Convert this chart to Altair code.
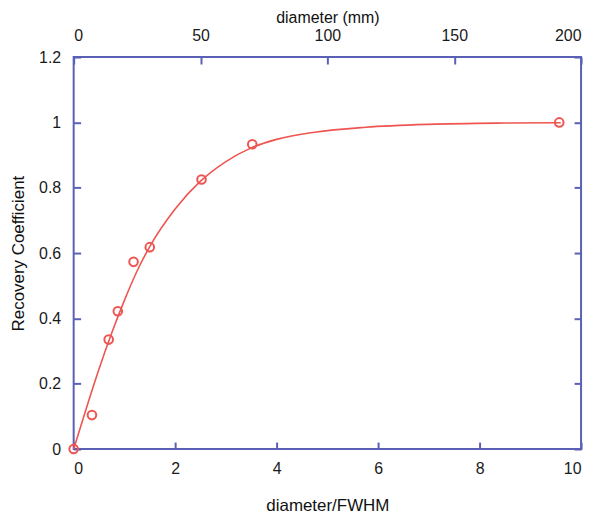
import altair as alt
import pandas as pd

# measured points (diameter / FWHM vs recovery coefficient)
fwhm = [0, 0.36, 0.69, 0.87, 1.18, 1.50, 2.52, 3.52, 9.57]
rc = [0, 0.104, 0.335, 0.422, 0.573, 0.618, 0.825, 0.933, 1.0]

# fitted curve
curve_x = [0, 0.25, 0.5, 0.75, 1.0, 1.25, 1.5, 2.0, 2.5, 3.0, 3.5, 4.0, 4.75, 5.75, 7.0, 8.5, 9.6]
curve_y = [0, 0.125, 0.245, 0.355, 0.455, 0.545, 0.62, 0.735, 0.82, 0.88, 0.922, 0.948, 0.97, 0.985, 0.994, 0.998, 0.999]

# tick values
x_ticks = [0, 2, 4, 6, 8, 10]
mm_ticks = [0, 50, 100, 150, 200]
y_ticks = [0, 0.2, 0.4, 0.6, 0.8, 1.0, 1.2]

W, H = 510, 394
BLUE = "#5a60b6"
RED = "#ef5550"
FONT = "Liberation Sans"

pts = pd.DataFrame({"fwhm": fwhm, "rc": rc})
crv = pd.DataFrame({"fwhm": curve_x, "rc": curve_y})
mm = pd.DataFrame({"mm": mm_ticks})

xs = alt.Scale(domain=[0, 10], nice=False, zero=False)
ys = alt.Scale(domain=[0, 1.2], nice=False, zero=False)
ms = alt.Scale(domain=[0, 200], nice=False, zero=False)

tick_axis = dict(labels=False, ticks=True, tickSize=7, tickWidth=2, tickColor=BLUE,
                 domain=False, grid=False, title=None)
label_axis = dict(ticks=False, tickSize=0, domain=False, grid=False,
                  labelFont=FONT, labelFontSize=16, labelColor="#1a1a1a",
                  titleFont=FONT, titleFontSize=17, titleFontWeight="normal",
                  titleColor="#111111")

points = alt.Chart(pts).mark_point(
    shape="circle", filled=False, color=RED, size=75, strokeWidth=2, opacity=1
).encode(
    x=alt.X("fwhm:Q", scale=xs,
            axis=alt.Axis(orient="bottom", values=x_ticks, labelPadding=12,
                          title="diameter/FWHM", titleY=57, titleBaseline="middle",
                          **label_axis)),
    y=alt.Y("rc:Q", scale=ys,
            axis=alt.Axis(orient="left", values=y_ticks, format="~g", labelPadding=13,
                          title="Recovery Coefficient", titleX=-63, titleY=H / 2,
                          titleAngle=-90, titleBaseline="top", titleAlign="center",
                          **label_axis)),
)

line = alt.Chart(crv).mark_line(color=RED, strokeWidth=1.6, interpolate="monotone").encode(
    x=alt.X("fwhm:Q", scale=xs,
            axis=alt.Axis(orient="top", offset=-H, values=x_ticks, **tick_axis)),
    y=alt.Y("rc:Q", scale=ys,
            axis=alt.Axis(orient="right", offset=-W, values=y_ticks, **tick_axis)),
)

right_ticks = alt.Chart(pts).mark_point(opacity=0).encode(
    x=alt.X("fwhm:Q", scale=xs, axis=None),
    y=alt.Y("rc:Q", scale=ys,
            axis=alt.Axis(orient="left", offset=-W, values=y_ticks, **tick_axis)),
)

top_label_axis = dict(label_axis, titleFontSize=16)
top_labels = alt.Chart(mm).mark_point(opacity=0).encode(
    x=alt.X("mm:Q", scale=ms,
            axis=alt.Axis(orient="top", values=mm_ticks, labelPadding=14,
                          title="diameter (mm)", titleY=-48, titleBaseline="top",
                          **top_label_axis)),
)

top_ticks = alt.Chart(mm).mark_point(opacity=0).encode(
    x=alt.X("mm:Q", scale=ms,
            axis=alt.Axis(orient="bottom", offset=-H, values=mm_ticks, **tick_axis)),
)

chart = alt.layer(top_labels, top_ticks, right_ticks, line, points).resolve_scale(
    x="independent", y="shared"
).resolve_axis(
    x="independent", y="independent"
).properties(
    width=W, height=H,
    autosize=alt.AutoSizeParams(type="none"),
    padding={"left": 66, "top": 48, "right": 12, "bottom": 68},
    background="white",
).configure_view(
    stroke=BLUE, strokeWidth=2
)

chart.save("out.html", embed_options={"renderer": "svg", "actions": False})
